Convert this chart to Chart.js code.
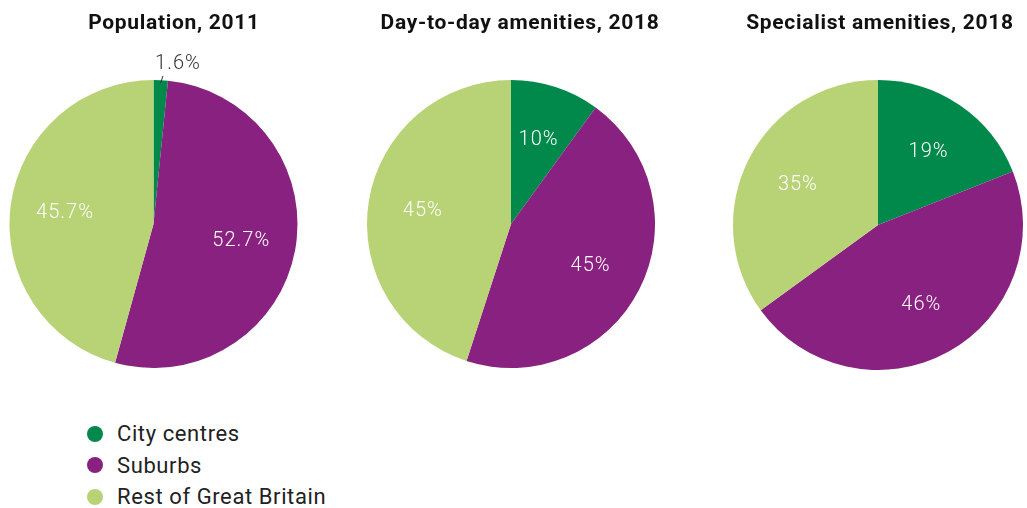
<!DOCTYPE html>
<html>
<head>
<meta charset="utf-8">
<script src="https://cdn.jsdelivr.net/npm/chart.js@4.4.1/dist/chart.umd.min.js"></script>
<style>
  body { margin: 0; background: #fff; }
  #page { position: relative; width: 1027px; height: 508px; overflow: hidden; font-family: Roboto, "Liberation Sans", sans-serif; }
  canvas { position: absolute; top: 0; }
  .titre { position: absolute; top: 10px; font-weight: 700; font-size: 21px; letter-spacing: 0.7px; color: #111; white-space: nowrap; transform: translateX(-50%); }
  #legende { position: absolute; left: 87px; top: 418px; }
  .item { height: 31.5px; display: flex; align-items: center; font-size: 22px; color: #222; letter-spacing: 0.6px; }
  .pastille { width: 16px; height: 16px; border-radius: 50%; margin-right: 14px; }
</style>
</head>
<body>
<div id="page">
  <canvas id="pop" width="340" height="400" style="left:0px"></canvas>
  <canvas id="quotidien" width="340" height="400" style="left:350px"></canvas>
  <canvas id="specialiste" width="337" height="400" style="left:690px"></canvas>
  <div class="titre" style="left:174px">Population, 2011</div>
  <div class="titre" style="left:520px">Day-to-day amenities, 2018</div>
  <div class="titre" style="left:880px">Specialist amenities, 2018</div>
  <div id="legende"></div>
</div>
<script>
let categories = ['City centres', 'Suburbs', 'Rest of Great Britain'];
let couleurs = ['#00894b', '#88217f', '#b8d375'];

let population2011 = [1.6, 52.7, 45.7];
let quotidien2018 = [10, 45, 45];
let specialiste2018 = [19, 46, 35];

// legende html sous le premier camembert
let legende = document.getElementById('legende');
categories.forEach((cat, i) => {
    let div = document.createElement('div');
    div.className = 'item';
    div.innerHTML = '<span class="pastille" style="background:' + couleurs[i] + '"></span>' + cat;
    legende.appendChild(div);
});

// etiquettes en pourcentage sur chaque part
const etiquettes = {
    id: 'etiquettes',
    afterDatasetsDraw(chart) {
        const ctx = chart.ctx;
        const meta = chart.getDatasetMeta(0);
        const valeurs = chart.data.datasets[0].data;
        ctx.save();
        ctx.font = '300 20px Roboto';
        ctx.letterSpacing = '1px';
        ctx.textAlign = 'center';
        ctx.textBaseline = 'middle';
        meta.data.forEach((arc, i) => {
            const p = arc.getProps(['x', 'y', 'startAngle', 'endAngle', 'outerRadius'], true);
            const milieu = (p.startAngle + p.endAngle) / 2;
            const texte = valeurs[i] + '%';
            if (valeurs[i] < 5) {
                // petite part : texte dehors avec un trait
                const x1 = p.x + Math.cos(milieu) * p.outerRadius * 0.98;
                const y1 = p.y + Math.sin(milieu) * p.outerRadius * 0.98;
                const x2 = p.x + Math.cos(milieu) * p.outerRadius * 1.03 + 2;
                const y2 = p.y + Math.sin(milieu) * p.outerRadius * 1.03;
                ctx.strokeStyle = '#333';
                ctx.lineWidth = 1;
                ctx.beginPath();
                ctx.moveTo(x1, y1);
                ctx.lineTo(x2, y2);
                ctx.stroke();
                ctx.fillStyle = '#333';
                ctx.fillText(texte, x2 + 15, y2 - 12);
            } else {
                const r = p.outerRadius * 0.62;
                ctx.fillStyle = '#ffffff';
                ctx.fillText(texte, p.x + Math.cos(milieu) * r, p.y + Math.sin(milieu) * r + 1);
            }
        });
        ctx.restore();
    }
};

function camembert(id, valeurs, padding) {
    let ctx = document.getElementById(id).getContext('2d');
    return new Chart(ctx, {
        type: 'pie',
        data: {
            labels: categories,
            datasets: [{
                data: valeurs,
                backgroundColor: couleurs,
                borderWidth: 0
            }]
        },
        options: {
            responsive: false,
            animation: false,
            layout: { padding: padding },
            plugins: {
                legend: { display: false },
                tooltip: { enabled: false },
                title: { display: false }
            }
        },
        plugins: [etiquettes]
    });
}

camembert('pop', population2011, { left: 9, right: 42, top: 80, bottom: 32 });
camembert('quotidien', quotidien2018, { left: 17, right: 35, top: 80, bottom: 32 });
camembert('specialiste', specialiste2018, { left: 43, right: 4, top: 80, bottom: 30 });
</script>
</body>
</html>
